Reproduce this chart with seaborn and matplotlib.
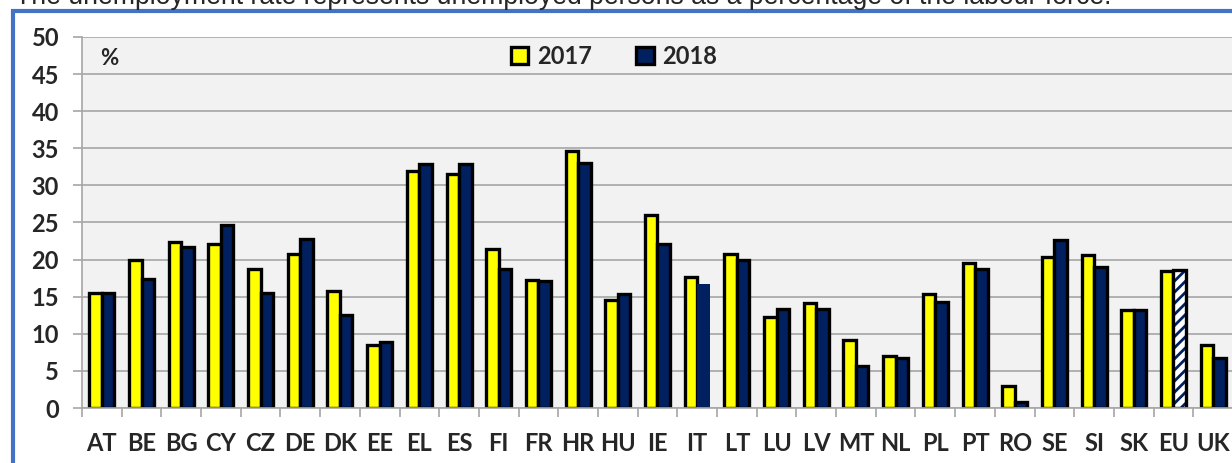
import matplotlib
matplotlib.use('Agg')
import matplotlib.pyplot as plt
from matplotlib.patches import Rectangle
import numpy as np
import pandas as pd
import seaborn as sns

countries = ['AT', 'BE', 'BG', 'CY', 'CZ', 'DE', 'DK', 'EE', 'EL', 'ES',
             'FI', 'FR', 'HR', 'HU', 'IE', 'IT', 'LT', 'LU', 'LV', 'MT',
             'NL', 'PL', 'PT', 'RO', 'SE', 'SI', 'SK', 'EU', 'UK']
rate_2017 = [15.5, 20.0, 22.4, 22.1, 18.8, 20.8, 15.8, 8.5, 31.9, 31.6,
             21.4, 17.3, 34.7, 14.6, 26.0, 17.6, 20.8, 12.2, 14.1, 9.1,
             7.0, 15.3, 19.5, 2.9, 20.3, 20.6, 13.2, 18.4, 8.5]
rate_2018 = [15.5, 17.4, 21.7, 24.7, 15.5, 22.8, 12.6, 8.9, 32.9, 32.9,
             18.8, 17.1, 33.0, 15.3, 22.1, 16.7, 20.0, 13.4, 13.4, 5.7,
             6.8, 14.3, 18.7, 0.8, 22.6, 19.0, 13.2, 18.6, 6.7]
years = ['2017', '2018']

YELLOW = '#FFFF00'
NAVY = '#002060'
GRID = '#A6A6A6'
FRAME = '#4472C4'

n = len(countries)
df = pd.DataFrame({
    'country': countries * 2,
    'year': [years[0]] * n + [years[1]] * n,
    'rate': rate_2017 + rate_2018,
})

sns.set_style('white')
plt.rcParams['font.family'] = ['Lato', 'DejaVu Sans']
plt.rcParams['font.weight'] = 'bold'
plt.rcParams['hatch.linewidth'] = 2.0

W, H = 1232, 463
fig = plt.figure(figsize=(W / 100, H / 100), dpi=100)
ax = fig.add_axes([82 / W, 55 / H, 1151 / W, 371 / H])
ax.set_facecolor('#F2F2F2')

sns.barplot(data=df, x='country', y='rate', hue='year', palette=[YELLOW, NAVY],
            saturation=1, width=0.63, edgecolor='black', linewidth=2.4,
            errorbar=None, ax=ax)

# EU 2018 bar is hatched, IT 2018 has no outline
eu = ax.containers[1][countries.index('EU')]
eu.set_facecolor('white')
eu.set_edgecolor(NAVY)
eu.set_hatch('///')
eu.set_linewidth(0)
ax.add_patch(Rectangle((eu.get_x(), eu.get_y()), eu.get_width(), eu.get_height(),
                       fill=False, edgecolor='black', lw=2.4))
ax.containers[1][countries.index('IT')].set_linewidth(0)

ax.set_ylim(0, 50)
ax.set_xlim(-0.5, n - 0.5)
ax.set_yticks(range(0, 51, 5))
ax.set_xticks(np.arange(-0.5, n, 1), minor=True)
ax.yaxis.grid(True, color=GRID, lw=1.2)
ax.set_axisbelow(True)
ax.set_xlabel('')
ax.set_ylabel('')

ax.tick_params(axis='x', which='major', length=0, pad=17, labelsize=17, bottom=True)
ax.tick_params(axis='x', which='minor', length=6.5, width=1.2, color=GRID, bottom=True)
ax.tick_params(axis='y', length=6.5, width=1.2, color=GRID, pad=10, labelsize=17, left=True)

for s in ['top', 'right']:
    ax.spines[s].set_visible(False)
for s in ['left', 'bottom']:
    ax.spines[s].set_color(GRID)
    ax.spines[s].set_linewidth(1.2)

ax.text(0.0156, 0.943, '%', transform=ax.transAxes, ha='left', va='center',
        fontsize=16, fontweight='bold')

sns.move_legend(ax, 'center', bbox_to_anchor=(614 / W, 1 - 56 / H),
                bbox_transform=fig.transFigure, ncol=2, frameon=False, title=None,
                fontsize=17, handlelength=0.75, handleheight=0.75,
                handletextpad=0.35, columnspacing=1.9)

fig.add_artist(Rectangle((12.5 / W, -0.5), 2, 1 - 11.5 / H + 0.5,
                         transform=fig.transFigure, fill=False,
                         edgecolor=FRAME, lw=3))
fig.text(15 / W, 1 - 4 / H,
         'The unemployment rate represents unemployed persons as a percentage of the labour force.',
         fontsize=19.2, family=['Liberation Sans', 'DejaVu Sans'], fontweight='normal',
         va='baseline', ha='left')

fig.savefig('out.png', dpi=100)
